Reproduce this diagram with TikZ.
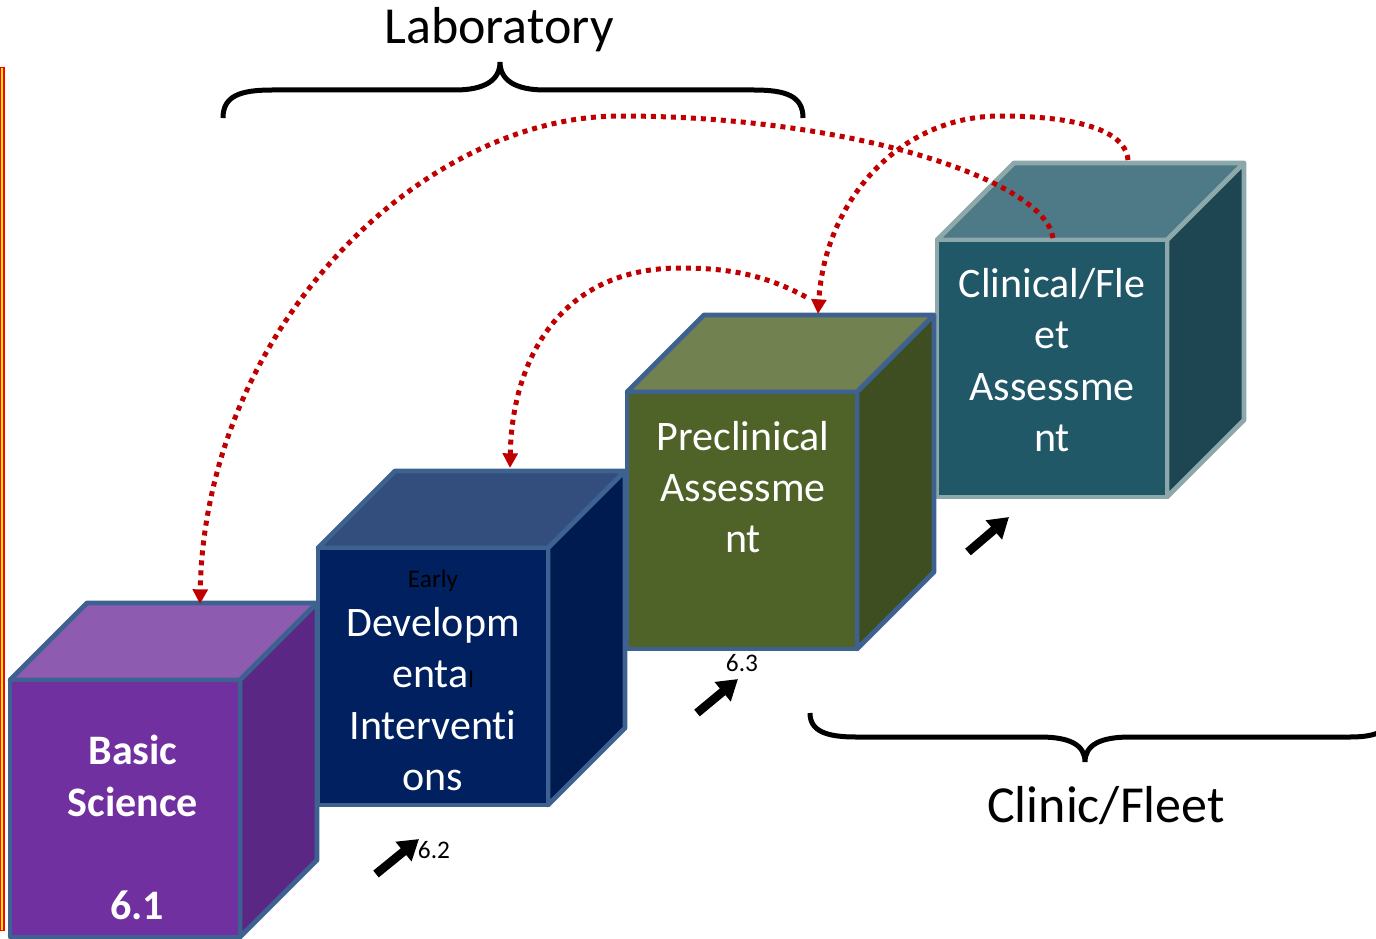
\documentclass[tikz,border=0pt]{standalone}
\usepackage{fontspec}
\setmainfont{Carlito}[Ligatures={NoCommon,NoContextual}]
\usetikzlibrary{arrows.meta}

\definecolor{bsfront}{HTML}{7030A0}
\definecolor{bstop}{HTML}{8D5BB0}
\definecolor{bsside}{HTML}{5B2784}
\definecolor{edfront}{HTML}{002060}
\definecolor{edtop}{HTML}{334D7C}
\definecolor{edside}{HTML}{001B4F}
\definecolor{pcfront}{HTML}{4F6228}
\definecolor{pctop}{HTML}{728150}
\definecolor{pcside}{HTML}{3E4E20}
\definecolor{cffront}{HTML}{215868}
\definecolor{cftop}{HTML}{4E7986}
\definecolor{cfside}{HTML}{1D4652}
\definecolor{edgeblue}{HTML}{3D6291}
\definecolor{edgegrey}{HTML}{8CA8AA}
\definecolor{loopred}{HTML}{C00000}

% cube: name, x, y of the front top-left corner, colour prefix, edge colour
\newcommand\drawcube[5]{%
  \begin{scope}[shift={(#2,#3)}, line width=3.6pt, line join=round, draw=#5]
    \filldraw[fill=#4top, draw=#5] (0,0) -- (77,-77) -- (307,-77) -- (230,0) -- cycle;
    \filldraw[fill=#4side, draw=#5] (230,0) -- (307,-77) -- (307,180) -- (230,257) -- cycle;
    \filldraw[fill=#4front, draw=#5] (0,0) rectangle (230,257);
    \coordinate (#1) at (115,128);
  \end{scope}}

\tikzset{
  cubetext/.style={text=white, align=center, inner sep=0pt,
    font=\fontsize{31.5}{38.5}\selectfont},
  heading/.style={inner sep=0pt, font=\fontsize{39}{47}\selectfont},
  small/.style={inner sep=0pt, font=\fontsize{19}{22}\selectfont},
  loop/.style={draw=loopred, line width=3.75pt, dash pattern=on 3.75pt off 3.75pt,
    -{Triangle[length=11pt,width=11pt]}},
  push/.style={draw=black, line width=6.5pt, -{Triangle[length=15pt,width=18pt]}},
  brace/.style={draw=black, line width=3.75pt},
}

\begin{document}
\begin{tikzpicture}[x=0.75pt, y=-0.75pt]
\useasboundingbox (0,0) rectangle (1376,938);

% thin frame edge at the left
\fill[red] (0,67) rectangle (4.5,931);
\fill[yellow] (1,68.5) rectangle (3.2,929.5);

% the four stages
\drawcube{cf}{937}{240}{cf}{edgegrey}
\drawcube{pc}{627}{392}{pc}{edgeblue}
\drawcube{ed}{318}{548}{ed}{edgeblue}
\drawcube{bs}{10}{680}{bs}{edgeblue}

% stage labels
\node[cubetext, font=\bfseries\fontsize{31.5}{39.5}\selectfont] (bs-label) at (133,776) {Basic\\Science};
\node[cubetext, font=\bfseries\fontsize{31.5}{38.5}\selectfont] (bs-num) at (137,905) {6.1};
\node[small] (ed-early) at (433,581) {Early};
\node[cubetext] (ed-label) at (433,699) {Developm\\enta{\color{black}\fontsize{18}{18}\selectfont l}\\Interventi\\ons};
\node[cubetext] (pc-label) at (743,487) {Preclinical\\Assessme\\nt};
\node[cubetext] (cf-label) at (1052,360) {Clinical/Fle\\et\\Assessme\\nt};

% group labels and braces
\node[heading] (lab) at (499,30) {Laboratory};
\node[heading] (clinic) at (1106,806) {Clinic/Fleet};
\coordinate (lab-tip) at (500,62);
\coordinate (clinic-tip) at (1085,762);
\draw[brace] (223,118) .. controls (223,96) and (240,90) .. (272,90) -- (455,90)
  .. controls (485,90) and (500,80) .. (lab-tip)
  .. controls (500,80) and (515,90) .. (545,90) -- (754,90)
  .. controls (786,90) and (803,96) .. (803,118);
\draw[brace] (810,713) .. controls (810,731) and (826,737) .. (856,737) -- (1040,737)
  .. controls (1070,737) and (1085,745) .. (clinic-tip)
  .. controls (1085,745) and (1100,737) .. (1130,737) -- (1350,737)
  .. controls (1378,737) and (1392,730) .. (1392,712);

% feedback loops
\coordinate (cf-front) at (1053,238);
\coordinate (cf-back) at (1128,160);
\coordinate (pc-back) at (818,314);
\coordinate (pc-out) at (806,297);
\coordinate (ed-back) at (510,468);
\coordinate (bs-back) at (200,604);
\draw[loop] (cf-front) .. controls (1045,180) and (850,116) .. (620,116)
  .. controls (420,116) and (205,330) .. (bs-back);
\draw[loop] (cf-back) .. controls (1125,125) and (1060,116) .. (1000,116)
  .. controls (900,116) and (825,200) .. (pc-back);
\draw[loop] (pc-out) .. controls (760,272) and (720,268) .. (680,268)
  .. controls (560,268) and (512,360) .. (ed-back);

% progression arrows and numbers
\coordinate (a62) at (376,874);
\coordinate (a63) at (697,713);
\coordinate (a64) at (968,552);
\coordinate (t62) at (419,839);
\coordinate (t63) at (738,679);
\coordinate (t64) at (1009,517);
\draw[push] (a62) -- (t62);
\draw[push] (a63) -- (t63);
\draw[push] (a64) -- (t64);
\node[small] (n62) at (434,850) {6.2};
\node[small] (n63) at (742,663) {6.3};
\end{tikzpicture}
\end{document}
